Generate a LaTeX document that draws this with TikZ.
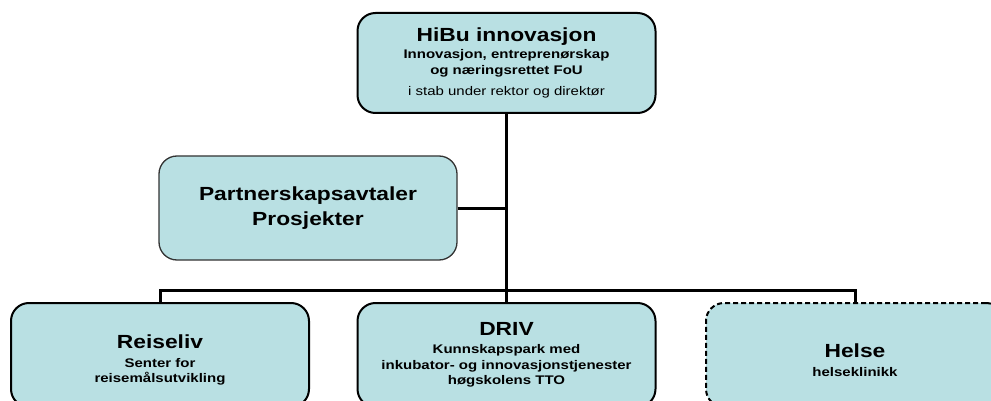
\documentclass[tikz,border=0pt]{standalone}
\usepackage{fontspec}
\setmainfont{Liberation Sans}
\newfontfamily\unitfont[FakeStretch=1.2]{Liberation Sans}
\newcommand{\headfont}{\unitfont\bfseries\fontsize{19}{25}\selectfont}
\newcommand{\subfont}{\unitfont\bfseries\fontsize{12.5}{15.5}\selectfont}
\newcommand{\notefont}{\unitfont\mdseries\fontsize{12.5}{15.5}\selectfont}
\definecolor{unitblue}{RGB}{185,224,227}

\begin{document}
\begin{tikzpicture}[x=1pt, y=-1pt,
    unit/.style={draw=black, line width=2pt, fill=unitblue, rounded corners=18pt,
      minimum width=298pt, minimum height=104pt, inner sep=0pt, align=center, font=\subfont},
    link/.style={line width=3pt}]
  \useasboundingbox (0,0) rectangle (991,401);
  \clip (0,0) rectangle (991,401);
  % top unit
  \node[unit, minimum height=100pt] (hibu) at (506.5,63)
    {{\headfont HiBu innovasjon}\\[2pt] Innovasjon, entreprenørskap\\ og næringsrettet FoU\\[6pt] {\notefont i stab under rektor og direktør}};
  % side unit
  \node[unit, draw=black!80, line width=1.3pt, font=\headfont] (partner) at (308,208)
    {Partnerskapsavtaler\\ Prosjekter};
  % bottom row
  \node[unit] (reise) at (160,355) {{\headfont\rule{0pt}{24pt}Reiseliv}\\[3pt] Senter for\\ reisemålsutvikling};
  \node[unit] (driv) at (506.5,355)
    {{\headfont DRIV}\\[3pt] Kunnskapspark med\\ inkubator- og innovasjonstjenester\\ høgskolens TTO};
  \node[unit, dashed, dash pattern=on 5pt off 3pt] (helse) at (855,355) {{\headfont\rule{0pt}{24pt}Helse}\\[3pt] helseklinikk};
  % connectors
  \coordinate (bar) at (506.5,290);
  \draw[link] (hibu.south) -- (driv.north);
  \draw[link] (reise.north) |- (bar) -| (helse.north);
  \draw[link] (partner.east) -- (partner.east -| hibu.south);
\end{tikzpicture}
\end{document}
